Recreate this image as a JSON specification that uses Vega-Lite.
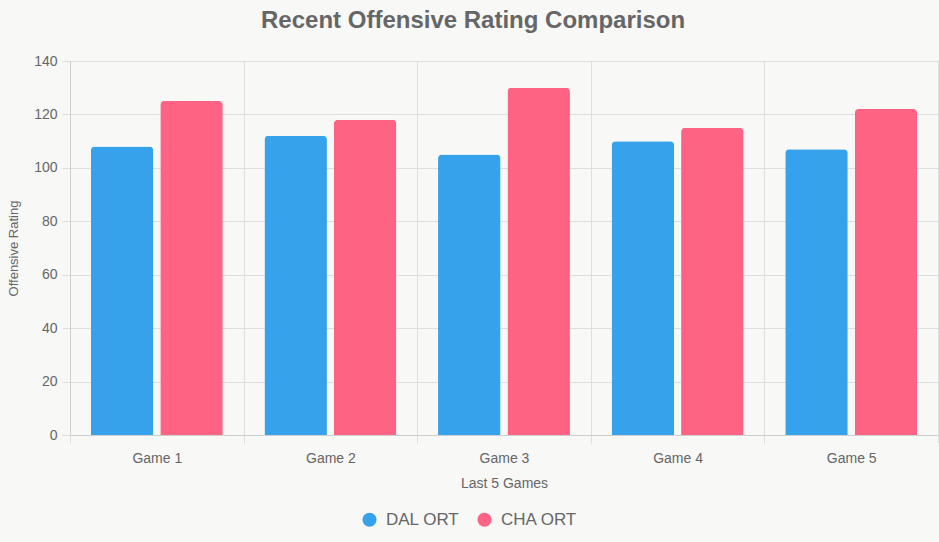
{
  "$schema": "https://vega.github.io/schema/vega-lite/v6.json",
  "autosize": {"type": "none"},
  "width": 868,
  "height": 374,
  "padding": {"left": 70, "top": 61, "right": 1, "bottom": 107},
  "background": "#f8f8f7",
  "title": {
    "text": "Recent Offensive Rating Comparison",
    "anchor": "middle",
    "frame": "bounds",
    "fontSize": 24,
    "fontWeight": "bold",
    "font": "Liberation Sans",
    "color": "#666666",
    "offset": 21
  },
  "data": {
    "values": [
      {"game": "Game 1", "team": "DAL ORT", "rating": 108},
      {"game": "Game 1", "team": "CHA ORT", "rating": 125},
      {"game": "Game 2", "team": "DAL ORT", "rating": 112},
      {"game": "Game 2", "team": "CHA ORT", "rating": 118},
      {"game": "Game 3", "team": "DAL ORT", "rating": 105},
      {"game": "Game 3", "team": "CHA ORT", "rating": 130},
      {"game": "Game 4", "team": "DAL ORT", "rating": 110},
      {"game": "Game 4", "team": "CHA ORT", "rating": 115},
      {"game": "Game 5", "team": "DAL ORT", "rating": 107},
      {"game": "Game 5", "team": "CHA ORT", "rating": 122}
    ]
  },
  "mark": {
    "type": "bar",
    "cornerRadiusTopLeft": 4,
    "cornerRadiusTopRight": 4
  },
  "encoding": {
    "x": {
      "field": "game",
      "type": "nominal",
      "sort": null,
      "scale": {"paddingInner": 0, "paddingOuter": 0},
      "axis": {
        "title": "Last 5 Games",
        "labelAngle": 0,
        "tickBand": "extent",
        "grid": true,
        "gridColor": "#dedede",
        "domainColor": "#cfcfcf",
        "tickColor": "#dedede",
        "tickSize": 8,
        "labelPadding": 8,
        "labelFontSize": 14,
        "labelColor": "#666666",
        "labelFont": "Liberation Sans",
        "titleFontSize": 14,
        "titleFontWeight": "normal",
        "titleColor": "#666666",
        "titleFont": "Liberation Sans",
        "titlePadding": 11
      }
    },
    "xOffset": {
      "field": "team",
      "type": "nominal",
      "sort": ["DAL ORT", "CHA ORT"],
      "scale": {"paddingInner": 0.1, "paddingOuter": 0.3}
    },
    "y": {
      "field": "rating",
      "type": "quantitative",
      "scale": {"domain": [0, 140], "nice": false},
      "axis": {
        "title": "Offensive Rating",
        "values": [0, 20, 40, 60, 80, 100, 120, 140],
        "grid": true,
        "gridColor": "#dedede",
        "domainColor": "#cfcfcf",
        "tickColor": "#dedede",
        "tickSize": 8,
        "labelPadding": 5,
        "labelFontSize": 14,
        "labelColor": "#666666",
        "labelFont": "Liberation Sans",
        "titleFontSize": 13,
        "titleFontWeight": "normal",
        "titleColor": "#666666",
        "titleFont": "Liberation Sans",
        "titlePadding": 13
      }
    },
    "color": {
      "field": "team",
      "type": "nominal",
      "sort": ["DAL ORT", "CHA ORT"],
      "scale": {"domain": ["DAL ORT", "CHA ORT"], "range": ["#36a2eb", "#ff6384"]},
      "legend": {
        "title": null,
        "orient": "none",
        "direction": "horizontal",
        "legendX": 291,
        "legendY": 450,
        "symbolType": "circle",
        "symbolSize": 200,
        "symbolOpacity": 1,
        "labelFontSize": 17,
        "labelColor": "#666666",
        "labelFont": "Liberation Sans",
        "labelOffset": 8,
        "columnPadding": 16
      }
    }
  },
  "config": {
    "view": {"stroke": null}
  }
}
